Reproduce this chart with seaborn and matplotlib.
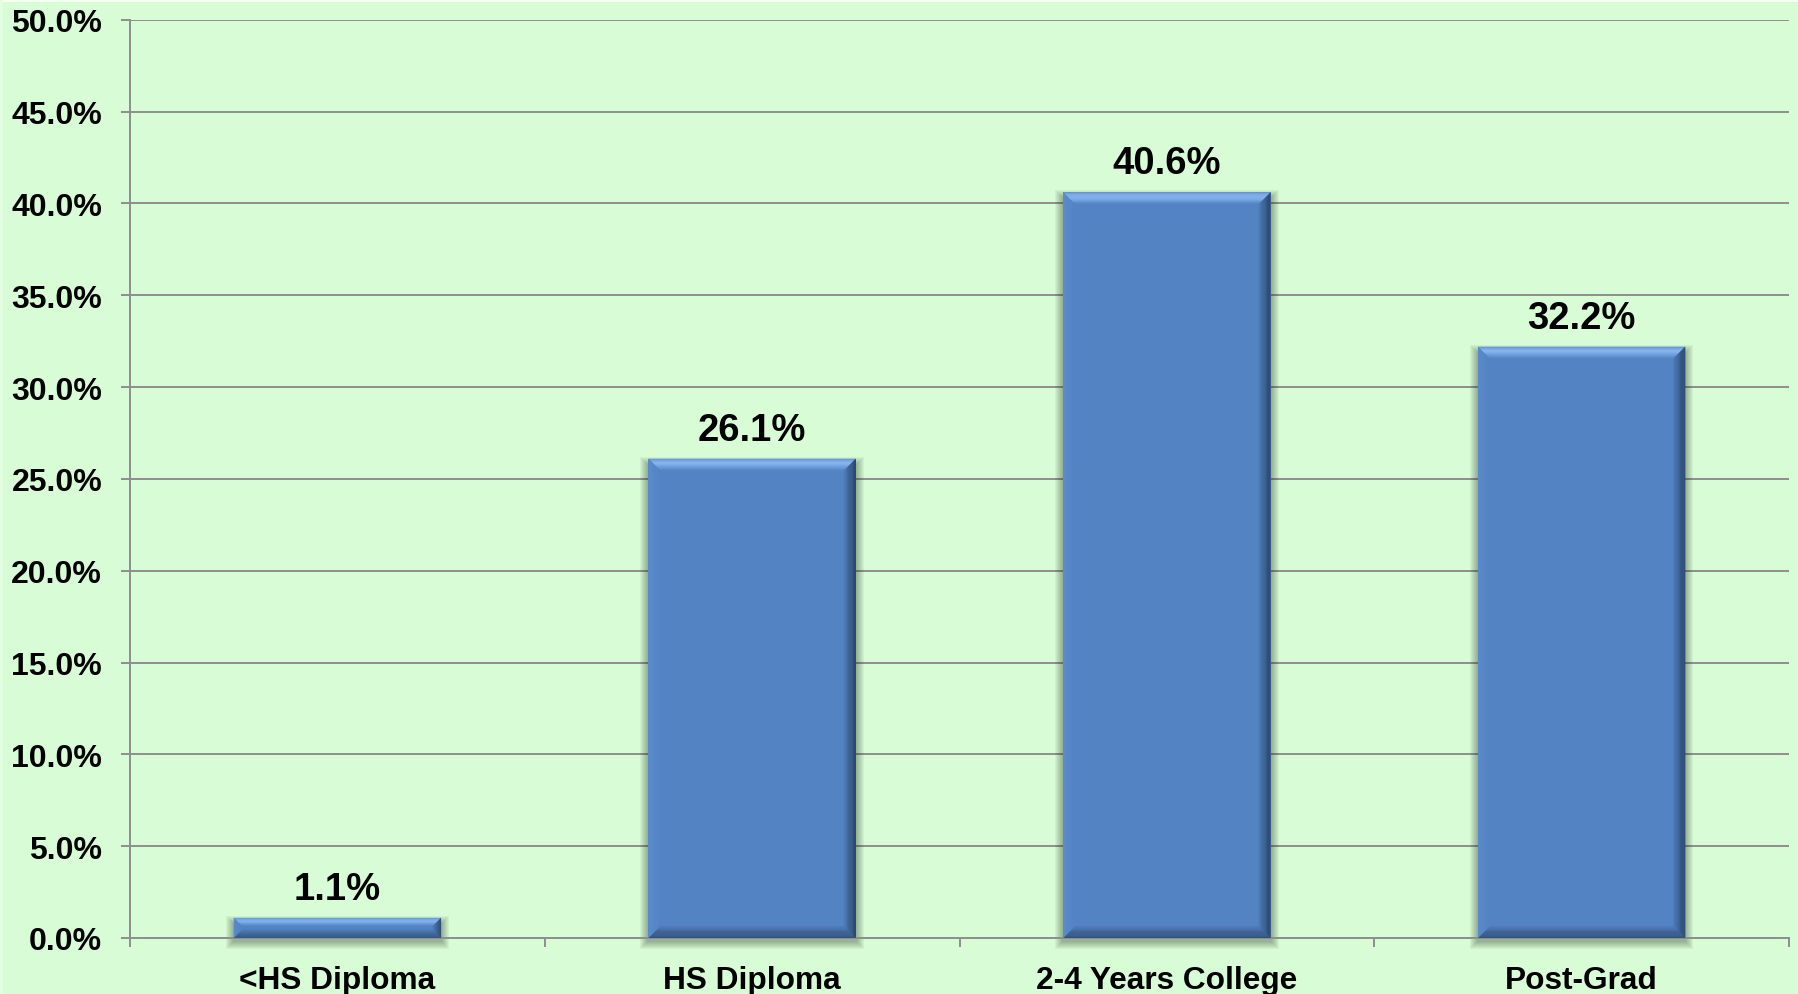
import numpy as np
import pandas as pd
import matplotlib
matplotlib.use("Agg")
import matplotlib.pyplot as plt
import matplotlib.colors as mcolors
from matplotlib.patches import Polygon, Rectangle
import seaborn as sns

# Education level distribution (percent of respondents)
categories = ["<HS Diploma", "HS Diploma", "2-4 Years College", "Post-Grad"]
shares = [1.1, 26.1, 40.6, 32.2]
y_ticks = [0, 5, 10, 15, 20, 25, 30, 35, 40, 45, 50]

BG = "#D8FCD6"
FACE = "#5383C3"
GRID = "#8E8E8E"

sns.set_theme(style="white")
plt.rcParams["font.family"] = ["Liberation Sans", "DejaVu Sans"]
plt.rcParams["font.weight"] = "bold"

DPI = 100
fig = plt.figure(figsize=(17.98, 9.95), dpi=DPI, facecolor=BG)
ax = fig.add_axes([130 / 1798, 1 - 939 / 995, (1789 - 130) / 1798, (939 - 20.7) / 995])
ax.set_facecolor(BG)

df = pd.DataFrame({"category": categories, "share": shares})
sns.barplot(data=df, x="category", y="share", color=FACE, width=0.5,
            saturation=1, ax=ax, zorder=3, linewidth=0)

ax.set_xlim(-0.5, len(categories) - 0.5)
ax.set_ylim(0, 50)
ax.set_yticks(y_ticks)
ax.set_yticklabels([f"{v:.1f}%" for v in y_ticks])
ax.set_xlabel("")
ax.set_ylabel("")

# gridlines and frame
ax.set_axisbelow(True)
ax.yaxis.grid(True, color=GRID, linewidth=1.4)
ax.xaxis.grid(False)
for side in ("top", "right"):
    ax.spines[side].set_visible(False)
for side in ("left", "bottom"):
    ax.spines[side].set_color(GRID)
    ax.spines[side].set_linewidth(1.4)

ax.tick_params(axis="y", which="major", left=True, length=6.5, width=1.4,
               color=GRID, pad=13.5, labelsize=23, labelcolor="black")
ax.set_xticks(np.arange(-0.5, len(categories), 1.0), minor=True)
ax.tick_params(axis="x", which="minor", bottom=True, length=6.5, width=1.4,
               color=GRID)
ax.tick_params(axis="x", which="major", bottom=False, length=0, pad=19.5,
               labelsize=22.8, labelcolor="black")
for lab in ax.get_xticklabels() + ax.get_yticklabels():
    lab.set_fontweight("bold")

# pixel -> data scale factors
ax_w_px = fig.get_figwidth() * DPI * ax.get_position().width
ax_h_px = fig.get_figheight() * DPI * ax.get_position().height
dx = (ax.get_xlim()[1] - ax.get_xlim()[0]) / ax_w_px
dy = (ax.get_ylim()[1] - ax.get_ylim()[0]) / ax_h_px


def gradient(stops, t):
    ts = [s[0] for s in stops]
    cols = np.array([mcolors.to_rgb(s[1]) for s in stops])
    return tuple(np.interp(t, ts, cols[:, k]) for k in range(3))


TOP = [(0, "#6C9AD6"), (0.2, "#84B3EE"), (0.45, "#93C3F8"), (0.75, "#6D9EDC"), (1, FACE)]
RIGHT = [(0, "#233B5C"), (0.45, "#34567F"), (1, "#4E7DBB")]
BOTTOM = [(0, "#2D4970"), (0.5, "#3C5F8E"), (1, "#4F7EBC")]
LEFT = [(0, "#5D8ECE"), (1, FACE)]


def bevel_side(outer_a, outer_b, inner_a, inner_b, stops, n=14):
    oa, ob, ia, ib = map(np.array, (outer_a, outer_b, inner_a, inner_b))
    for i in range(n):
        t0, t1 = i / n, (i + 1) / n
        p0a, p0b = oa + (ia - oa) * t0, ob + (ib - ob) * t0
        p1a, p1b = oa + (ia - oa) * t1, ob + (ib - ob) * t1
        ax.add_patch(Polygon([p0a, p0b, p1b, p1a], closed=True,
                             facecolor=gradient(stops, (t0 + t1) / 2),
                             edgecolor="none", zorder=4))


bars = list(ax.patches)
for bar, val in zip(bars, shares):
    x0, w = bar.get_x(), bar.get_width()
    y0, h = bar.get_y(), bar.get_height()
    x1, y1 = x0 + w, y0 + h
    h_px = h / dy
    b_px = min(12.0, 0.42 * h_px)
    bx, by = b_px * dx, b_px * dy

    # soft drop shadow
    for k in range(1, 9):
        ax.add_patch(Rectangle((x0 - k * dx, y0 - (k + 3) * dy),
                               w + 2 * k * dx, h + 2 * k * dy - 3 * dy,
                               facecolor="#203020", alpha=0.05, edgecolor="none",
                               zorder=2, clip_on=False))

    # bevelled edges
    bevel_side((x0, y1), (x1, y1), (x0 + bx, y1 - by), (x1 - bx, y1 - by), TOP)
    bevel_side((x1, y1), (x1, y0), (x1 - bx, y1 - by), (x1 - bx, y0 + by), RIGHT)
    bevel_side((x0, y0), (x1, y0), (x0 + bx, y0 + by), (x1 - bx, y0 + by), BOTTOM)
    bevel_side((x0, y1), (x0, y0), (x0 + bx, y1 - by), (x0 + bx, y0 + by), LEFT)

    ax.annotate(f"{val:.1f}%", xy=(x0 + w / 2, y1), xytext=(0, 13.7),
                textcoords="offset points", ha="center", va="baseline",
                fontsize=27.5, fontweight="bold", color="black", zorder=6)

# slide frame: thin white top edge, lighter left edge
fig.patches.append(Rectangle((0, 1 - 3 / 995), 1, 3 / 995, transform=fig.transFigure,
                             facecolor="#F4FFF2", edgecolor="none", zorder=0))
fig.patches.append(Rectangle((0, 0), 3 / 1798, 1, transform=fig.transFigure,
                             facecolor="#E3FDE0", edgecolor="none", zorder=0))

fig.savefig("out.png", dpi=DPI, facecolor=BG)
